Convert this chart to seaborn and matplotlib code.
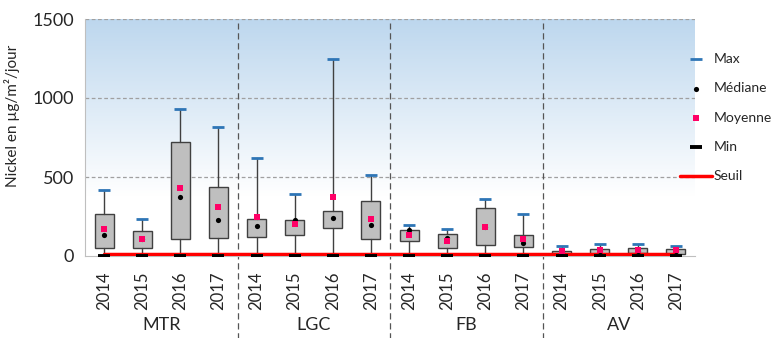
import numpy as np
import pandas as pd
import matplotlib
matplotlib.use("Agg")
import matplotlib.pyplot as plt
from matplotlib.colors import LinearSegmentedColormap
import seaborn as sns

# Nickel deposition statistics per site and year (µg/m²/jour)
sites = ["MTR", "LGC", "FB", "AV"]
years = ["2014", "2015", "2016", "2017"]

maxima = [420, 235, 930, 818,
          619, 394, 1250, 511,
          195, 170, 362, 267,
          64, 78, 74, 64]
q3 = [265, 159, 722, 434,
      233, 227, 284, 348,
      167, 142, 303, 131,
      30, 42, 51, 47]
q1 = [49, 53, 108, 117,
      121, 131, 176, 106,
      97, 51, 72, 55,
      15, 15, 17, 15]
medianes = [131, 108, 373, 227,
            191, 225, 242, 195,
            165, 112, 186, 85,
            23, 30, 34, 32]
moyennes = [170, 110, 428, 311,
            246, 201, 373, 237,
            131, 95, 186, 106,
            34, 38, 38, 38]
minima = [1] * 16
seuil = 15

n = len(maxima)
pos = np.arange(n)
df = pd.DataFrame({
    "pos": pos,
    "annee": years * len(sites),
    "max": maxima, "q3": q3, "q1": q1,
    "mediane": medianes, "moyenne": moyennes, "min": minima,
    "seuil": [seuil] * n,
})

sns.set_style("white")
plt.rcParams["font.family"] = ["Lato", "DejaVu Sans"]

W, H = 773, 338
fig = plt.figure(figsize=(W / 100, H / 100), dpi=100)
ax = fig.add_axes([85 / W, 1 - 256 / H, 610 / W, 237 / H])
ax.set_xlim(-0.5, n - 0.5)
ax.set_ylim(0, 1500)

# plot area background: blue at the top fading to white
cmap = LinearSegmentedColormap.from_list("fond", ["#ffffff", "#bdd7ee"])
grad = np.linspace(0, 1, 256).reshape(-1, 1)
ax.imshow(grad, cmap=cmap, origin="lower", aspect="auto",
          extent=(-0.5, n - 0.5, 380, 1500), zorder=0)

# horizontal gridlines
for v in (500, 1000, 1500):
    ax.axhline(v, color="#a0a0a0", lw=0.9, ls=(0, (3, 2)), zorder=1)

# boxes and whiskers
stats = [dict(med=m, q1=a, q3=b, whislo=lo, whishi=hi)
         for m, a, b, lo, hi in zip(medianes, q1, q3, minima, maxima)]
ax.bxp(stats, positions=pos, widths=0.5, showcaps=False, showfliers=False,
       patch_artist=True, manage_ticks=False,
       boxprops=dict(facecolor="#bfbfbf", edgecolor="#404040", lw=1.0),
       whiskerprops=dict(color="#404040", lw=1.0),
       medianprops=dict(lw=0), zorder=2)

# threshold line
sns.lineplot(data=df, x="pos", y="seuil", ax=ax, color="#ff0000", lw=2.5,
             zorder=3, label="Seuil", legend=False)

# markers for the statistics
sns.scatterplot(data=df, x="pos", y="max", ax=ax, marker="_", s=70,
                color="#2e75b6", linewidth=2.0, zorder=4, label="Max", legend=False)
sns.scatterplot(data=df, x="pos", y="mediane", ax=ax, marker="o", s=14,
                color="black", linewidth=0, zorder=5, label="Médiane", legend=False)
sns.scatterplot(data=df, x="pos", y="moyenne", ax=ax, marker="s", s=18,
                color="#ff0066", linewidth=0, zorder=6, label="Moyenne", legend=False)
sns.scatterplot(data=df, x="pos", y="min", ax=ax, marker="_", s=70,
                color="black", linewidth=2.8, zorder=4, label="Min", legend=False)

ax.set_xlabel("")
ax.set_ylabel("Nickel en µg/m²/jour", fontsize=11)
ax.yaxis.set_label_coords(-0.107, 0.59)

# axes styling
for s in ("top", "right"):
    ax.spines[s].set_visible(False)
ax.spines["left"].set_color("#bfbfbf")
ax.spines["bottom"].set_color("#bfbfbf")
ax.spines["left"].set_zorder(1)
ax.set_yticks([0, 500, 1000, 1500])
ax.tick_params(axis="y", labelsize=13, length=4, color="#bfbfbf", pad=4)
ax.set_xticks(pos)
ax.set_xticklabels(df["annee"], rotation=90, fontsize=12)
ax.tick_params(axis="x", length=0, pad=11)
ax.set_xticks(np.arange(-0.5, n, 1), minor=True)
ax.tick_params(axis="x", which="minor", length=8, color="#bfbfbf", width=1)

# group separators and site names
for b in (3.5, 7.5, 11.5):
    ax.axvline(b, ymin=-0.35, ymax=0.985, color="#555555", lw=0.9,
               ls=(0, (5, 3)), clip_on=False, zorder=1)
for i, site in enumerate(sites):
    ax.text(i * 4 + 1.5, -0.291, site, transform=ax.get_xaxis_transform(),
            ha="center", va="center", fontsize=13)

# legend
h, l = ax.get_legend_handles_labels()
order = ["Max", "Médiane", "Moyenne", "Min", "Seuil"]
hm = dict(zip(l, h))
fig.legend([hm[k] for k in order], order, loc="upper left",
           bbox_to_anchor=(680 / W, 1 - 53 / H), frameon=False,
           fontsize=10, handlelength=2.3, handletextpad=0.15,
           labelspacing=1.25, borderpad=0, borderaxespad=0)

fig.savefig("out.png", dpi=100)
